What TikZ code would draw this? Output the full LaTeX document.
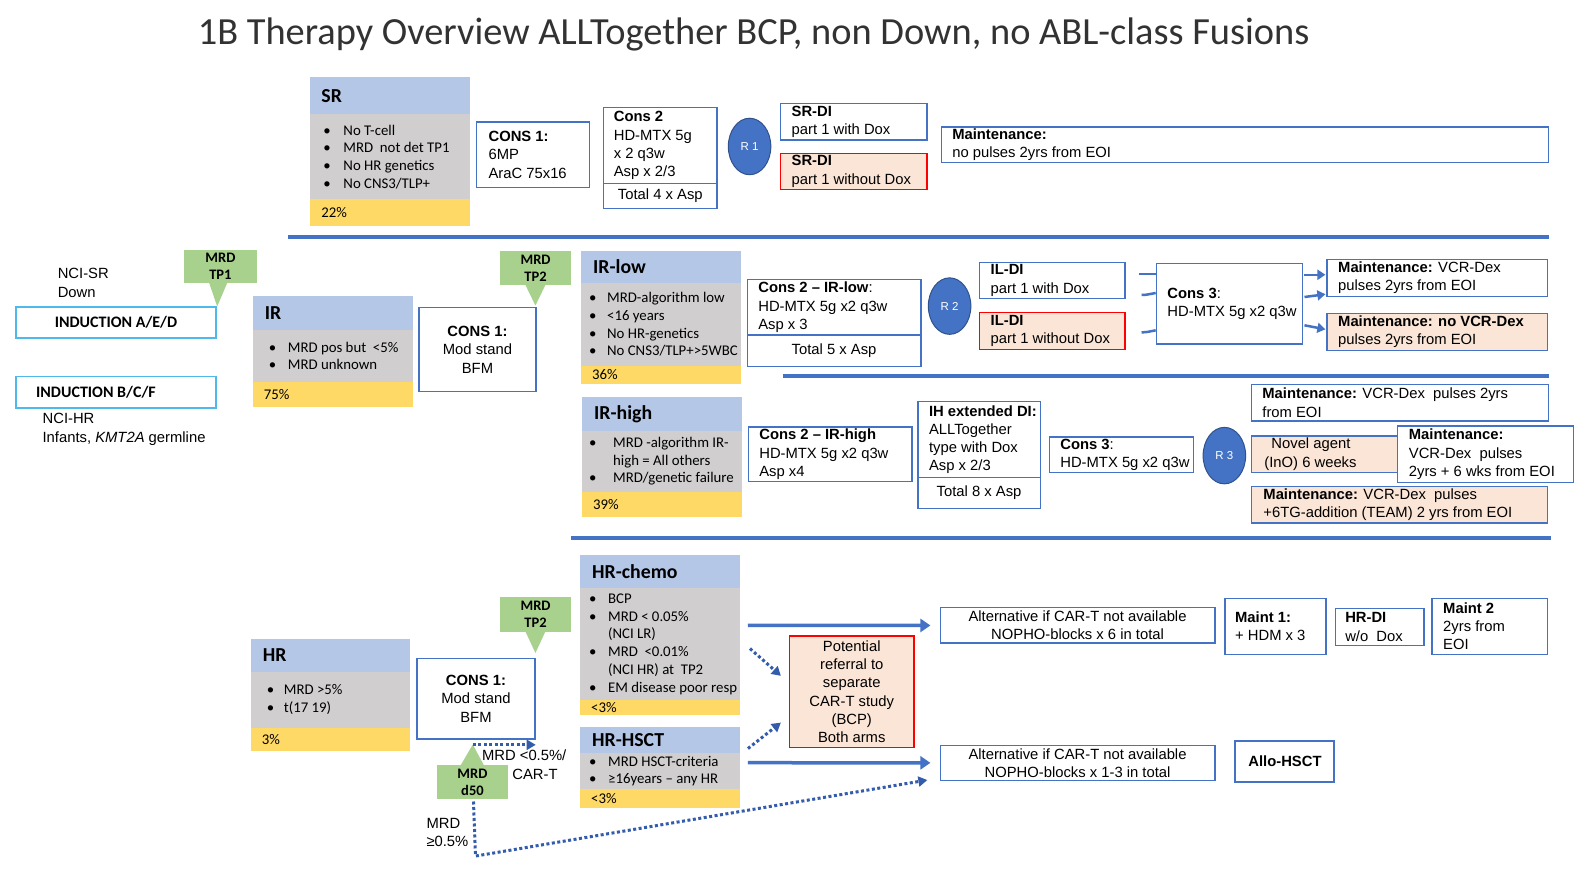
\documentclass[tikz,border=0pt]{standalone}
\usepackage{fontspec}
\setmainfont{Carlito}
\newfontfamily\arialf{Liberation Sans}
\usetikzlibrary{arrows.meta,shapes.geometric,calc}
\definecolor{bordblue}{RGB}{68,114,196}
\definecolor{dotblue}{RGB}{52,92,172}
\definecolor{hdblue}{RGB}{180,199,231}
\definecolor{gry}{RGB}{208,206,206}
\definecolor{yel}{RGB}{255,217,102}
\definecolor{grn}{RGB}{169,209,142}
\definecolor{peach}{RGB}{251,229,214}
\definecolor{indblue}{RGB}{80,185,235}
\definecolor{circb}{RGB}{47,82,143}
\definecolor{ttl}{RGB}{50,50,50}
\def\sck{1.0102}
\newcommand\bu[2][20]{\makebox[#1pt][l]{•}#2}
\newcommand\bcont[2][20]{\hspace*{#1pt}#2}
% box with left-aligned text: name,x,y,w,h,pad,style,text
\newcommand\bx[8]{%
 \pgfmathsetmacro\bw{#4*\sck}\pgfmathsetmacro\bh{#5*\sck}%
 \node[#7,anchor=north west,minimum width=\bw pt,minimum height=\bh pt,inner sep=0pt] (#1) at (#2,#3) {};
 \node[#7,draw=none,fill=none,anchor=west,inner sep=0pt,align=left] (#1t) at ($(#1.west)+(#6,0)$) {#8};}
% box with centred text: name,x,y,w,h,style,text
\newcommand\bxc[7]{%
 \pgfmathsetmacro\bw{#4*\sck}\pgfmathsetmacro\bh{#5*\sck}%
 \node[#6,anchor=north west,minimum width=\bw pt,minimum height=\bh pt,inner sep=0pt] (#1) at (#2,#3) {};
 \node[#6,draw=none,fill=none,anchor=center,inner sep=0pt,align=center] (#1t) at (#1.center) {#7};}
\tikzset{
 afont/.style={font=\arialf\fontsize{14.8}{18.2}\selectfont},
 wb/.style={draw=bordblue,line width=1.3pt,fill=white,afont},
 rbx/.style={draw=red,line width=1.3pt,fill=peach,afont},
 pbx/.style={draw=bordblue,line width=1.3pt,fill=peach,afont},
 ibx/.style={draw=indblue,line width=1.6pt,fill=white,font=\bfseries\fontsize{16}{18}\selectfont},
 hdr/.style={fill=hdblue,font=\bfseries\fontsize{19.8}{22}\selectfont},
 bod/.style={fill=gry,font=\fontsize{14.8}{17.7}\selectfont},
 ftr/.style={fill=yel,font=\fontsize{14.8}{16}\selectfont},
 cb/.style={fill=grn,font=\bfseries\fontsize{14.5}{17}\selectfont},
 txt/.style={font=\arialf\fontsize{14.8}{18.2}\selectfont,inner sep=0pt,align=left},
 rc/.style={ellipse,fill=bordblue,draw=circb,line width=1pt,minimum width=42.5pt,minimum height=56.5pt,inner sep=0pt,text=white,font=\arialf\fontsize{11.5}{13}\selectfont},
 sepl/.style={draw=bordblue,line width=4pt},
 arr/.style={draw=bordblue,line width=3.5pt,-{Triangle[length=10pt,width=13pt]}},
 sarr/.style={draw=bordblue,line width=2.5pt,-{Triangle[length=8pt,width=10pt]}},
 stub/.style={draw=bordblue,line width=2.5pt},
 darr/.style={draw=dotblue,line width=3pt,dash pattern=on 3pt off 2.5pt,-{Triangle[length=9pt,width=10pt]}},
}
\begin{document}
\begin{tikzpicture}[x=1.0102pt,y=-1.0102pt]
\useasboundingbox (0,0) rectangle (1568,871.1);
\fill[white] (0,0) rectangle (1568,871.1);
\node[font=\fontsize{38.4}{44}\selectfont,text=ttl,inner sep=0pt] (title) at (746,34) {1B Therapy Overview ALLTogether BCP, non Down, no ABL-class Fusions};

% ---------------- SR row
\bx{srh}{307}{76}{158}{37}{11}{hdr}{SR}
\bx{srb}{307}{113}{158}{84}{13}{bod}{\bu{No T-cell}\\ \bu{MRD~ not det TP1}\\ \bu{No HR genetics}\\ \bu{No CNS3/TLP+}}
\bx{srf}{307}{197}{158}{27}{11}{ftr}{22\%}
\bx{c1sr}{471}{120}{112}{65}{12}{wb}{\textbf{CONS 1:}\\6MP\\AraC 75x16}
\bx{c2sr}{597}{106}{112}{75}{10}{wb}{\textbf{Cons 2}\\HD-MTX 5g\\x 2 q3w\\Asp x 2/3}
\bxc{c2srt}{597}{181}{112}{25}{wb}{Total 4 x Asp}
\node[rc] (r1) at (742,145) {R 1};
\bx{srdi1}{772}{102}{145}{36}{11}{wb}{\textbf{SR-DI}\\part 1 with Dox}
\bx{srdi2}{772}{151}{145}{36}{11}{rbx}{\textbf{SR-DI}\\part 1 without Dox}
\bx{srm}{931}{125}{601}{35}{11}{wb}{\textbf{Maintenance:}\\no pulses 2yrs from EOI}
\draw[sepl] (285,235) -- (1533,235);

% ---------------- left: induction
\node[txt,anchor=west] (ncisr) at (57,280) {NCI-SR\\Down};
\bxc{tp1}{182}{247}{72}{33}{cb}{MRD\\TP1}
\fill[grn] ($(tp1.south west)+(25,-0.5)$) -- ($(tp1.south west)+(43,-0.5)$) -- ($(tp1.south west)+(33,23)$) -- cycle;
\bxc{inda}{15}{303}{198}{31}{ibx}{INDUCTION A/E/D}
\bx{indb}{15}{372}{198}{31}{20}{ibx}{INDUCTION B/C/F}
\node[txt,anchor=west] (ncihr) at (42,425) {NCI-HR\\Infants, \textit{KMT2A} germline};

% ---------------- IR
\bx{irh}{250}{293}{159}{33}{12}{hdr}{IR}
\bx{irb}{250}{326}{159}{52}{16}{bod}{\bu[19]{MRD pos but~ <5\%}\\ \bu[19]{MRD unknown}}
\bx{irf}{250}{378}{159}{25}{11}{ftr}{75\%}
\bxc{c1ir}{414}{304}{116}{83}{wb}{\textbf{CONS 1:}\\Mod stand\\BFM}
\bxc{tp2}{495}{248}{70}{34}{cb}{MRD\\TP2}
\fill[grn] ($(tp2.south west)+(25,-0.5)$) -- ($(tp2.south west)+(45,-0.5)$) -- ($(tp2.south west)+(35,20)$) -- cycle;

% ---------------- IR-low
\bx{irlh}{575}{248}{158}{32}{12}{hdr}{IR-low}
\bx{irlb}{575}{280}{158}{82}{8}{bod}{\bu[18]{MRD-algorithm low}\\ \bu[18]{<16 years}\\ \bu[18]{No HR-genetics}\\ \bu[18]{No CNS3/TLP+>5WBC}}
\bx{irlf}{575}{362}{158}{18}{11}{ftr}{36\%}
\bx{c2irl}{739}{276}{172}{55}{11}{wb}{\textbf{Cons 2 – IR-low}:\\HD-MTX 5g x2 q3w\\Asp x 3}
\bxc{c2irlt}{739}{331}{172}{31}{wb}{Total 5 x Asp}
\node[rc] (r2) at (940,303) {R 2};
\bx{ildi1}{969}{259}{144}{36}{11}{wb}{\textbf{IL-DI}\\part 1 with Dox}
\bx{ildi2}{969}{309}{144}{36}{11}{rbx}{\textbf{IL-DI}\\part 1 without Dox}
\bx{c3irl}{1144}{260}{145}{80}{11}{wb}{\textbf{Cons 3}:\\HD-MTX 5g x2 q3w}
\draw[stub] ($(c3irl.north west)+(-17,11)$) -- ($(c3irl.north west)+(0,11)$);
\draw[stub] ($(c3irl.north west)+(-14,32)$) to[out=0,in=190] ($(c3irl.north west)+(0,30)$);
\draw[stub] ($(c3irl.north west)+(-14,69)$) to[out=0,in=190] ($(c3irl.north west)+(0,67)$);
\bx{mvcr}{1313}{256}{218}{37}{11}{wb}{\textbf{Maintenance:} VCR-Dex\\pulses 2yrs from EOI}
\bx{mnovcr}{1313}{310}{218}{36}{11}{pbx}{\textbf{Maintenance: no VCR-Dex}\\pulses 2yrs from EOI}
\draw[sarr] ($(c3irl.north east)+(1,12)$) -- ($(mvcr.north west)+(-1,16)$);
\draw[sarr] ($(c3irl.north east)+(1,34)$) -- ($(mvcr.south west)+(-1,-3)$);
\draw[sarr] ($(c3irl.north east)+(1,62)$) -- ($(mnovcr.north west)+(-1,16)$);
\draw[sepl] (775,372) -- (1533,372);

% ---------------- IR-high
\bx{irhh}{576}{393}{158}{33}{12}{hdr}{IR-high}
\bx{irhb}{576}{426}{158}{61}{7}{bod}{\bu[24]{MRD -algorithm IR-}\\ \bcont[24]{high = All others}\\ \bu[24]{MRD/genetic failure}}
\bx{irhf}{576}{487}{158}{25}{11}{ftr}{39\%}
\bx{c2irh}{740}{422}{162}{54}{11}{wb}{\textbf{Cons 2 – IR-high}\\HD-MTX 5g x2 q3w\\Asp x4}
\bx{ihext}{908}{397}{121}{75}{11}{wb}{\textbf{IH extended DI:}\\ALLTogether\\type with Dox\\Asp x 2/3}
\bxc{ihextt}{908}{472}{121}{31}{wb}{Total 8 x Asp}
\bx{c3irh}{1038}{432}{143}{35}{11}{wb}{\textbf{Cons 3}:\\HD-MTX 5g x2 q3w}
\node[rc] (r3) at (1212,451) {R 3};
\bx{mvcr2}{1238}{380}{294}{36}{11}{wb}{\textbf{Maintenance:} VCR-Dex~ pulses 2yrs\\from EOI}
\bx{novel}{1238}{431}{145}{36}{13}{pbx}{\hspace*{7pt}Novel agent\\(InO) 6 weeks}
\bx{m6w}{1383}{421}{174}{56}{11}{wb}{\textbf{Maintenance:}\\VCR-Dex~ pulses\\2yrs + 6 wks from EOI}
\bx{team}{1238}{481}{293}{36}{12}{pbx}{\textbf{Maintenance:} VCR-Dex~ pulses\\+6TG-addition (TEAM) 2 yrs from EOI}
\draw[sepl] (565,533) -- (1535,533);

% ---------------- HR
\bx{hrh}{248}{632}{158}{33}{12}{hdr}{HR}
\bx{hrb}{248}{665}{158}{55}{16}{bod}{\bu[17]{MRD >5\%}\\ \bu[17]{t(17 19)}}
\bx{hrf}{248}{720}{158}{23}{11}{ftr}{3\%}
\bxc{c1hr}{412}{651}{117}{80}{wb}{\textbf{CONS 1:}\\Mod stand\\BFM}
\bxc{tp2hr}{495}{591}{70}{34}{cb}{MRD\\TP2}
\fill[grn] ($(tp2hr.south west)+(25,-0.5)$) -- ($(tp2hr.south west)+(45,-0.5)$) -- ($(tp2hr.south west)+(35,21)$) -- cycle;
\bxc{d50}{432}{757}{71}{34}{cb}{MRD\\d50}
\fill[grn] ($(d50.north west)+(24,0.5)$) -- ($(d50.north west)+(47,0.5)$) -- ($(d50.north west)+(36,-20)$) -- cycle;

\bx{hrch}{574}{549}{158}{33}{12}{hdr}{HR-chemo}
\bx{hrcb}{574}{582}{158}{111}{9}{bod}{\bu[19]{BCP}\\ \bu[19]{MRD < 0.05\%}\\ \bcont[19]{(NCI LR)}\\ \bu[19]{MRD~ <0.01\%}\\ \bcont[19]{(NCI HR) at~ TP2}\\ \bu[19]{EM disease poor resp}}
\bx{hrcf}{574}{693}{158}{15}{11}{ftr}{<3\%}
\bx{hrsh}{574}{719}{158}{26}{12}{hdr}{HR-HSCT}
\bx{hrsb}{574}{745}{158}{36}{9}{bod}{\bu[19]{MRD HSCT-criteria}\\ \bu[19]{≥16years – any HR}}
\bx{hrsf}{574}{781}{158}{19}{11}{ftr}{<3\%}

\bxc{pot}{781}{629}{123}{110}{rbx}{Potential\\referral to\\separate\\CAR-T study\\(BCP)\\Both arms}
\bxc{alt1}{930}{601}{272}{35}{wb}{Alternative if CAR-T not available\\NOPHO-blocks x 6 in total}
\bx{m1}{1212}{592}{100}{55}{10}{wb}{\textbf{Maint 1:}\\+ HDM x 3}
\bx{hrdi}{1321}{602}{88}{36}{10}{wb}{\textbf{HR-DI}\\w/o~ Dox}
\bx{m2}{1417}{592}{114}{55}{11}{wb}{\textbf{Maint 2}\\2yrs from\\EOI}
\bxc{alt2}{930}{737}{272}{35}{wb}{Alternative if CAR-T not available\\NOPHO-blocks x 1-3 in total}
\bxc{allo}{1222}{733}{98}{40}{wb,line width=2pt}{\textbf{Allo-HSCT}}

\draw[arr] ($(hrcb.north east)+(8,37)$) -- ($(alt1.west)+(-9,0)$);
\draw[darr] ($(hrcb.north east)+(10,60)$) -- ($(pot.north west)+(-8,40)$);
\draw[darr] ($(hrsh.north east)+(8,22)$) -- ($(pot.south west)+(-8,-25)$);
\draw[arr] ($(hrsb.north east)+(8,10)$) -- ($(alt2.west)+(-9,0)$);
\draw[darr] ($(c1hr.south west)+(56,5)$) -- ($(c1hr.south east)+(0,5)$);
\node[txt,anchor=west] (lblcar) at (477,748) {MRD <0.5\%/};
\node[txt,anchor=west] (lblcar2) at (507,767) {CAR-T};
\draw[darr] ($(d50.south)+(1,2)$) -- ($(d50.south)+(3,56)$) -- ($(alt2.west)+(-12,17)$);
\node[txt,anchor=west] (lblmrd) at (422,824) {MRD\\≥0.5\%};
\end{tikzpicture}
\end{document}
